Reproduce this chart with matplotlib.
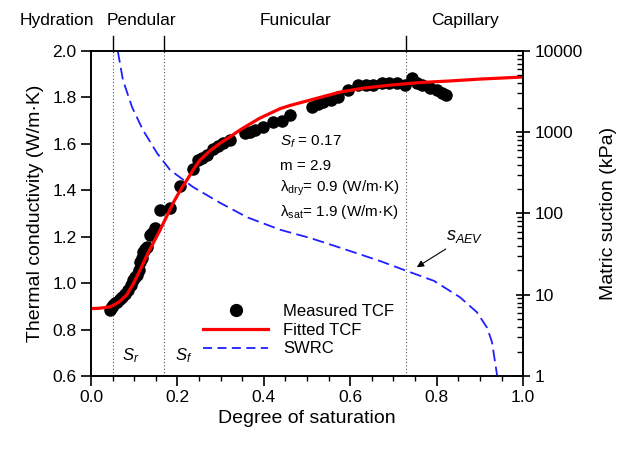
import matplotlib
matplotlib.use("Agg")
import matplotlib.pyplot as plt
from matplotlib.lines import Line2D

plt.rcParams['font.family'] = ['Liberation Sans', 'DejaVu Sans']
plt.rcParams['mathtext.fontset'] = 'custom'
plt.rcParams['mathtext.rm'] = 'Liberation Sans'
plt.rcParams['mathtext.it'] = 'Liberation Sans:italic'

# measured thermal conductivity
meas_sr = [0.044, 0.046, 0.048, 0.052, 0.055, 0.060, 0.066, 0.071, 0.078, 0.086,
           0.092, 0.097, 0.102, 0.106, 0.110, 0.113, 0.117, 0.120, 0.125, 0.129,
           0.137, 0.141, 0.148, 0.159, 0.183, 0.206, 0.236, 0.248, 0.256, 0.268,
           0.282, 0.295, 0.306, 0.322, 0.356, 0.368, 0.380, 0.398, 0.421, 0.442,
           0.460, 0.512, 0.525, 0.537, 0.555, 0.572, 0.595, 0.618, 0.636, 0.653,
           0.674, 0.690, 0.708, 0.727, 0.743, 0.755, 0.766, 0.785, 0.801, 0.812,
           0.822]
meas_tc = [0.885, 0.892, 0.897, 0.905, 0.914, 0.920, 0.930, 0.940, 0.955, 0.970,
           0.990, 1.013, 1.025, 1.035, 1.056, 1.090, 1.110, 1.133, 1.145, 1.155,
           1.207, 1.215, 1.237, 1.315, 1.323, 1.420, 1.490, 1.530, 1.540, 1.552,
           1.580, 1.590, 1.603, 1.616, 1.646, 1.653, 1.660, 1.672, 1.694, 1.700,
           1.724, 1.759, 1.770, 1.780, 1.790, 1.802, 1.832, 1.853, 1.853, 1.853,
           1.862, 1.862, 1.862, 1.853, 1.884, 1.862, 1.853, 1.840, 1.832, 1.820,
           1.810]

# fitted TCF curve
fit_sr = [0.0, 0.02, 0.044, 0.055, 0.067, 0.083, 0.10, 0.113, 0.132, 0.153,
          0.164, 0.177, 0.19, 0.205, 0.222, 0.237, 0.252, 0.275, 0.299, 0.32,
          0.345, 0.37, 0.391, 0.415, 0.438, 0.46, 0.50, 0.54, 0.576, 0.63,
          0.692, 0.76, 0.831, 0.9, 1.0]
fit_tc = [0.890, 0.892, 0.898, 0.908, 0.922, 0.950, 1.005, 1.055, 1.130, 1.205,
          1.245, 1.295, 1.345, 1.395, 1.444, 1.490, 1.530, 1.570, 1.603, 1.628,
          1.660, 1.688, 1.711, 1.732, 1.752, 1.765, 1.785, 1.805, 1.823, 1.840,
          1.853, 1.864, 1.871, 1.879, 1.888]

# SWRC, suction in kPa
swrc_sr = [0.062, 0.074, 0.095, 0.12, 0.153, 0.183, 0.236, 0.299, 0.361, 0.438,
           0.507, 0.576, 0.669, 0.731, 0.794, 0.854, 0.893, 0.917, 0.928, 0.94]
swrc_s = [10000, 4370, 2040, 1070, 552, 343, 212, 135, 90, 63,
          50, 38, 26, 19.6, 14.8, 9.3, 6.1, 3.9, 2.6, 1.0]

region_x = [0.05, 0.17, 0.73]
region_names = ['Hydration', 'Pendular', 'Funicular', 'Capillary']
region_label_x = [-0.079, 0.116, 0.474, 0.865]

fig = plt.figure(figsize=(6.25, 4.49), dpi=100)
ax = fig.add_axes([0.1456, 0.1626, 0.6914, 0.7238])
ax2 = ax.twinx()

for xv in region_x:
    ax.axvline(xv, color='#555555', ls=(0, (1, 2)), lw=0.8, zorder=1)
    ax.plot([xv, xv], [1.0, 1.046], color='black', lw=1.0,
            transform=ax.get_xaxis_transform(), clip_on=False)

for name, xv in zip(region_names, region_label_x):
    ax.text(xv, 1.093, name, transform=ax.get_xaxis_transform(),
            ha='center', va='center', fontsize=12.5)

ax.plot(meas_sr, meas_tc, 'o', color='black', ms=8, zorder=3)
ax.plot(fit_sr, fit_tc, '-', color='red', lw=2.3, zorder=4)
ax2.plot(swrc_sr, swrc_s, color='#1f1fff', lw=1.3, ls=(0, (6.5, 3)))

ax.set_xlim(0, 1.0)
ax.set_ylim(0.6, 2.0)
ax2.set_yscale('log')
ax2.set_ylim(1, 10000)
ax.set_xticks([0.0, 0.2, 0.4, 0.6, 0.8, 1.0])
ax.set_xticklabels(['0.0', '0.2', '0.4', '0.6', '0.8', '1.0'])
ax.set_xticks([0.05 * i for i in range(21)], minor=True)
ax.set_yticks([0.6, 0.8, 1.0, 1.2, 1.4, 1.6, 1.8, 2.0])
ax.set_yticklabels(['0.6', '0.8', '1.0', '1.2', '1.4', '1.6', '1.8', '2.0'])
ax2.set_yticks([1, 10, 100, 1000, 10000])
ax2.set_yticklabels(['1', '10', '100', '1000', '10000'])

ax.tick_params(axis='x', which='major', direction='out', length=7, width=1.2, labelsize=12.5, pad=3)
ax.tick_params(axis='x', which='minor', direction='out', length=3.5, width=1.0)
ax.tick_params(axis='y', which='major', direction='out', length=7, width=1.2, labelsize=12.5)
ax2.tick_params(axis='y', which='major', direction='inout', length=10, width=1.2, labelsize=12.5)
ax2.tick_params(axis='y', which='minor', direction='in', length=4, width=1.0)
for a in (ax, ax2):
    for sp in a.spines.values():
        sp.set_linewidth(1.2)

ax.set_xlabel('Degree of saturation', fontsize=14, labelpad=4)
ax.set_ylabel('Thermal conductivity (W/m·K)', fontsize=14, labelpad=6)
ax2.set_ylabel('Matric suction (kPa)', fontsize=14, labelpad=12)

ax.text(0.072, 0.686, '$S_r$', fontsize=12, va='center')
ax.text(0.194, 0.686, '$S_f$', fontsize=12, va='center')

ax.text(0.4375, 1.608, '$S_f$ = 0.17', fontsize=11, va='center')
ax.text(0.4375, 1.504, 'm = 2.9', fontsize=11, va='center')
ax.text(0.4375, 1.410, 'λ$_{\\rm dry}$= 0.9 (W/m·K)', fontsize=11, va='center')
ax.text(0.4375, 1.306, 'λ$_{\\rm sat}$= 1.9 (W/m·K)', fontsize=11, va='center')

ax.annotate('', xy=(0.754, 1.069), xytext=(0.821, 1.147),
            arrowprops=dict(arrowstyle='-|>', color='black', lw=0.8,
                            mutation_scale=10, shrinkA=0, shrinkB=0))
ax.text(0.865, 1.203, '$s_{AEV}$', fontsize=13, ha='center', va='center')

handles = [Line2D([], [], marker='o', ls='none', color='black', ms=8.5),
           Line2D([], [], color='red', lw=2.3),
           Line2D([], [], color='#1f1fff', lw=1.3, ls=(0, (5, 3)))]
ax.legend(handles, ['Measured TCF', 'Fitted TCF', 'SWRC'], frameon=False,
          loc='upper left', bbox_to_anchor=(203 / 625, 1 - 304 / 449),
          bbox_transform=fig.transFigure, borderpad=0, borderaxespad=0,
          handlelength=3.9, handletextpad=0.9, labelspacing=0.22, fontsize=12)

fig.savefig('out.png', dpi=100)
